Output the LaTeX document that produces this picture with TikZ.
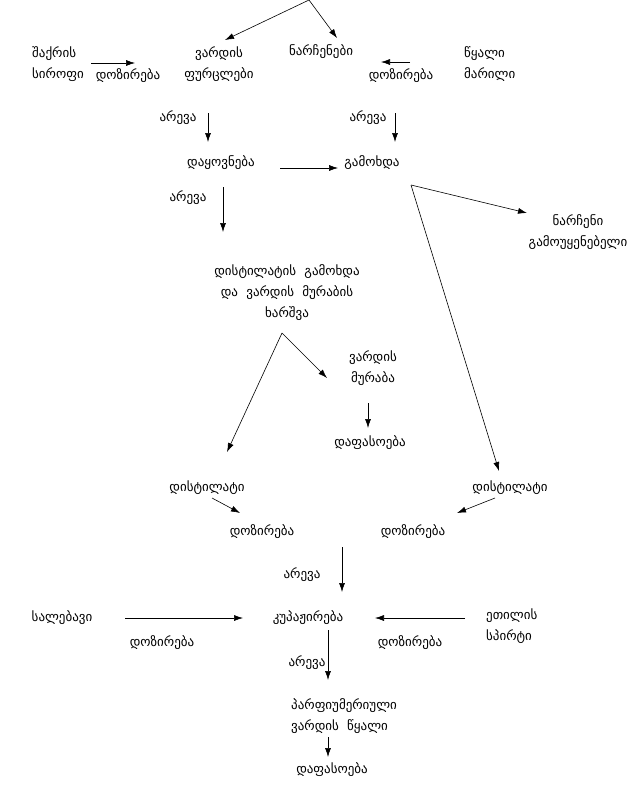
\documentclass[tikz,border=0pt]{standalone}
\usepackage{fontspec}
\newfontfamily\geo{DejaVu Sans}
\usetikzlibrary{arrows.meta}

\tikzset{
  txt/.style={font=\geo\fontsize{13}{21}\selectfont, align=center, inner sep=1pt},
  ltxt/.style={txt, align=left, anchor=west},
  flow/.style={->, line width=.6pt},
}

\begin{document}
\begin{tikzpicture}[x=1pt, y=-1pt, >={Latex[length=9pt,width=6pt]}]
  \useasboundingbox (0,0) rectangle (641,787);
  % top row
  \node [ltxt] (sirofi) at (31,64) {შაქრის\\სიროფი};
  \node [txt] (doz1) at (128,76) {დოზირება};
  \node [txt] (furcl) at (219,64) {ვარდის\\ფურცლები};
  \node [txt] (narch) at (321,52) {ნარჩენები};
  \node [txt] (doz2) at (401,76) {დოზირება};
  \node [ltxt] (marili) at (463,64) {წყალი\\მარილი};
  % mixing and distillation
  \node [txt] (arev1) at (178,118) {არევა};
  \node [txt] (arev2) at (368,118) {არევა};
  \node [txt] (dayovn) at (221,163) {დაყოვნება};
  \node [txt] (gamoxda) at (372,163) {გამოხდა};
  \node [txt] (arev3) at (188,198) {არევა};
  \node [txt] (narcheni) at (578,232) {ნარჩენი\\გამოუყენებელი};
  \node [txt] (xarshva) at (287,293) {დისტილატის\ \ გამოხდა\\და\ \ ვარდის\ \ მურაბის\\ხარშვა};
  \node [txt] (muraba) at (373,368) {ვარდის\\მურაბა};
  \node [txt] (dafas1) at (370,443) {დაფასოება};
  % distillate dosing
  \node [txt] (dist1) at (207,488) {დისტილატი};
  \node [txt] (doz3) at (262,532) {დოზირება};
  \node [txt] (dist2) at (510,488) {დისტილატი};
  \node [txt] (doz4) at (413,532) {დოზირება};
  \node [txt] (arev4) at (302,575) {არევა};
  % blending
  \node [txt] (salebavi) at (62,618) {სალებავი};
  \node [txt] (doz5) at (162,643) {დოზირება};
  \node [txt] (kupaj) at (308,618) {კუპაჟირება};
  \node [ltxt] (spirti) at (485,626) {ეთილის\\სპირტი};
  \node [txt] (doz6) at (410,643) {დოზირება};
  \node [txt] (arev5) at (307,663) {არევა};
  \node [ltxt] (vwater) at (290,716) {პარფიუმერიული\\ვარდის\ \ წყალი};
  \node [txt] (dafas2) at (332,770) {დაფასოება};

  % arrow ends
  \coordinate (top) at (309,0);
  \coordinate (topL) at (225,40);
  \coordinate (topR) at (337,38);
  \coordinate (s1) at (91,63);   \coordinate (e1) at (135,63);
  \coordinate (s2) at (410,62);  \coordinate (e2) at (381,62);
  \coordinate (s3) at (208,113); \coordinate (e3) at (208,142);
  \coordinate (s4) at (395,113); \coordinate (e4) at (395,142);
  \coordinate (s5) at (280,168); \coordinate (e5) at (338,168);
  \coordinate (s6) at (223,187); \coordinate (e6) at (223,232);
  \coordinate (fork1) at (411,185);
  \coordinate (e7) at (527,213); \coordinate (e8) at (499,471);
  \coordinate (fork2) at (282,333);
  \coordinate (e9) at (227,452); \coordinate (e10) at (327,378);
  \coordinate (s11) at (368,403); \coordinate (e11) at (368,428);
  \coordinate (s12) at (212,498); \coordinate (e12) at (240,513);
  \coordinate (s13) at (495,498); \coordinate (e13) at (457,513);
  \coordinate (s14) at (342,547); \coordinate (e14) at (342,592);
  \coordinate (s15) at (125,618); \coordinate (e15) at (243,618);
  \coordinate (s16) at (465,618); \coordinate (e16) at (375,618);
  \coordinate (s17) at (328,630); \coordinate (e17) at (328,680);
  \coordinate (s18) at (328,737); \coordinate (e18) at (328,757);

  \draw [flow] (top) -- (topL);
  \draw [flow] (top) -- (topR);
  \draw [flow] (s1) -- (e1);
  \draw [flow] (s2) -- (e2);
  \draw [flow] (s3) -- (e3);
  \draw [flow] (s4) -- (e4);
  \draw [flow] (s5) -- (e5);
  \draw [flow] (s6) -- (e6);
  \draw [flow] (fork1) -- (e7);
  \draw [flow] (fork1) -- (e8);
  \draw [flow] (fork2) -- (e9);
  \draw [flow] (fork2) -- (e10);
  \draw [flow] (s11) -- (e11);
  \draw [flow] (s12) -- (e12);
  \draw [flow] (s13) -- (e13);
  \draw [flow] (s14) -- (e14);
  \draw [flow] (s15) -- (e15);
  \draw [flow] (s16) -- (e16);
  \draw [flow] (s17) -- (e17);
  \draw [flow] (s18) -- (e18);
\end{tikzpicture}
\end{document}
